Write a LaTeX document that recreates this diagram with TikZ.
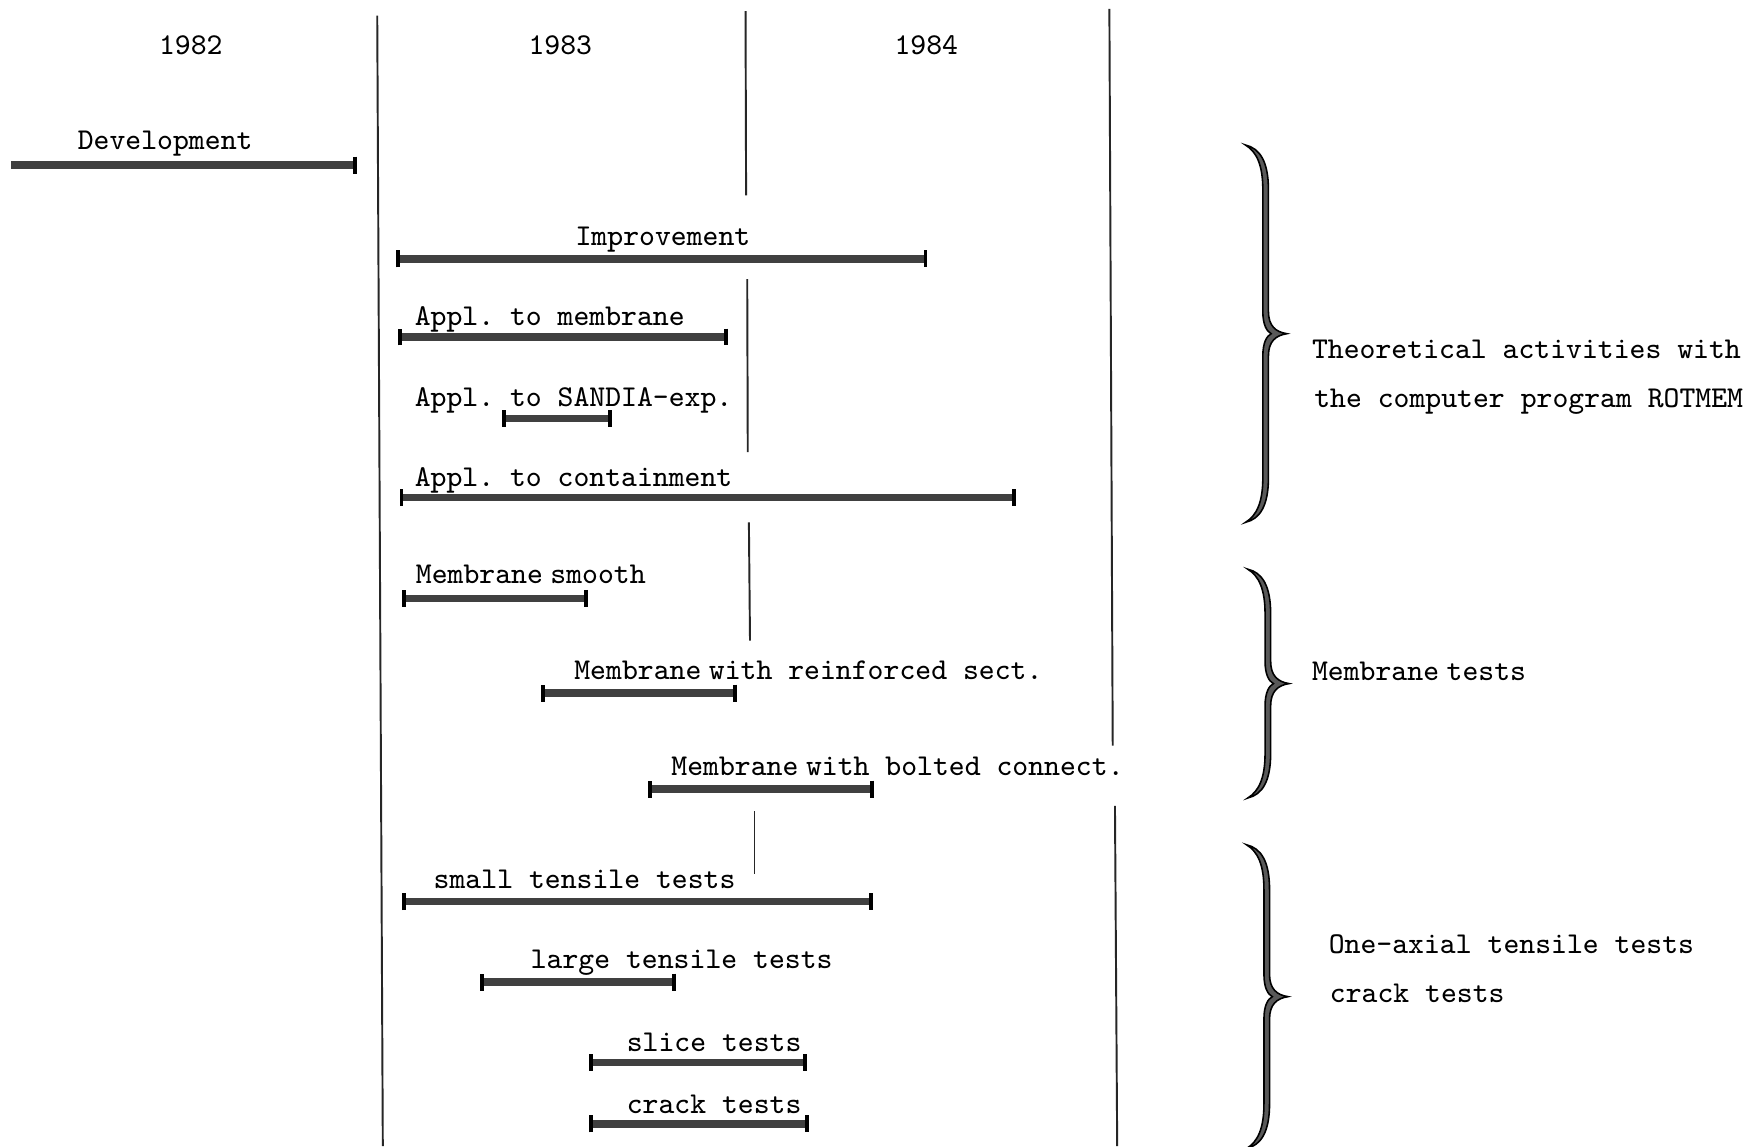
\documentclass[tikz,border=0pt]{standalone}
\usepackage{fontspec}
\usetikzlibrary{arrows.meta}
\newcommand\tbrace[3]{%
  \pgfmathsetmacro\ym{(#2+#3)/2}%
  \filldraw[bracestyle]
    (#1,#2) .. controls ({#1+13},{#2+3}) and ({#1+20.5},{#2+15}) .. ({#1+20.5},{#2+40})
    -- ({#1+20.5},{\ym-20}) .. controls ({#1+20.5},{\ym-7}) and ({#1+27},{\ym-1.5}) .. ({#1+37},\ym)
    .. controls ({#1+27},{\ym+1.5}) and ({#1+20.5},{\ym+7}) .. ({#1+20.5},{\ym+20})
    -- ({#1+20.5},{#3-40}) .. controls ({#1+20.5},{#3-15}) and ({#1+13},{#3-3}) .. (#1,#3)
    .. controls ({#1+10},{#3-6}) and ({#1+15.5},{#3-18}) .. ({#1+15.5},{#3-40})
    -- ({#1+15.5},{\ym+20}) .. controls ({#1+15.5},{\ym+8}) and ({#1+19},{\ym+2}) .. ({#1+23},\ym)
    .. controls ({#1+19},{\ym-2}) and ({#1+15.5},{\ym-8}) .. ({#1+15.5},{\ym-20})
    -- ({#1+15.5},{#2+40}) .. controls ({#1+15.5},{#2+18}) and ({#1+10},{#2+6}) .. (#1,#2) -- cycle;}
\begin{document}
\frenchspacing
\begin{tikzpicture}[x=0.0111607cm,y=-0.0111607cm,
  lbl/.style={font=\fontsize{8.6}{10}\selectfont\ttfamily\frenchspacing, inner sep=0pt, text=black},
  lblw/.style={lbl, anchor=base west},
  lblc/.style={lbl, anchor=base},
  gridline/.style={line width=0.55pt, black!85},
  gbar/.style={line width=2.1pt, draw=black!75, {Bar[width=4.8pt,line width=1.1pt,color=black]}-{Bar[width=4.8pt,line width=1.1pt,color=black]}},
  gbarr/.style={line width=2.1pt, draw=black!75, -{Bar[width=4.8pt,line width=1.1pt,color=black]}},
  bracestyle/.style={fill=black!65, draw=black, line width=0.45pt},
]
\useasboundingbox[fill=white] (0,0) rectangle (1568,1027);

% year grid
\draw[gridline] (338,14) -- (343,1027);
\draw[gridline] (668,10) -- (668.5,175);
\draw[gridline] (669.5,250) -- (670,405);
\draw[gridline] (671,468) -- (672,574);
\draw[gridline] (676,727) -- (676,783);
\draw[gridline] (994,8) -- (997,668);
\draw[gridline] (999,722) -- (1001,1027);

\node[lblc] (y82) at (171,49) {1982};
\node[lblc] (y83) at (502,49) {1983};
\node[lblc] (y84) at (830,49) {1984};

% bars
\node[lblc] (dev) at (148,134) {Development};
\coordinate (dev-s) at (10,148); \coordinate (dev-e) at (320,148);
\draw[gbarr] (dev-s) -- (dev-e);

\node[lblc] (imp) at (594,220) {Improvement};
\coordinate (imp-s) at (355,232); \coordinate (imp-e) at (831,232);
\draw[gbar] (imp-s) -- (imp-e);

\node[lblw] (mem) at (371,292) {Appl. to membrane};
\coordinate (mem-s) at (357,302); \coordinate (mem-e) at (652,302);
\draw[gbar] (mem-s) -- (mem-e);

\node[lblw] (san) at (371,364) {Appl. to SANDIA-exp.};
\coordinate (san-s) at (450,375); \coordinate (san-e) at (548,375);
\draw[gbar] (san-s) -- (san-e);

\node[lblw] (con) at (371,436) {Appl. to containment};
\coordinate (con-s) at (358,446); \coordinate (con-e) at (910,446);
\draw[gbar] (con-s) -- (con-e);

\node[lblw] (smo) at (372,523) {Membrane\hspace{0.25em}smooth};
\coordinate (smo-s) at (360,536); \coordinate (smo-e) at (527,536);
\draw[gbar] (smo-s) -- (smo-e);

\node[lblw] (rei) at (514,609) {Membrane\hspace{0.25em}with reinforced sect.};
\coordinate (rei-s) at (485,621); \coordinate (rei-e) at (660,621);
\draw[gbar] (rei-s) -- (rei-e);

\node[lblw] (bol) at (601,695) {Membrane\hspace{0.25em}with bolted connect.};
\coordinate (bol-s) at (581,707); \coordinate (bol-e) at (783,707);
\draw[gbar] (bol-s) -- (bol-e);

\node[lblw] (sma) at (388,796) {small tensile tests};
\coordinate (sma-s) at (360,808); \coordinate (sma-e) at (782,808);
\draw[gbar] (sma-s) -- (sma-e);

\node[lblw] (lar) at (475,868) {large tensile tests};
\coordinate (lar-s) at (430,880); \coordinate (lar-e) at (606,880);
\draw[gbar] (lar-s) -- (lar-e);

\node[lblw] (sli) at (561,942) {slice tests};
\coordinate (sli-s) at (528,952); \coordinate (sli-e) at (723,952);
\draw[gbar] (sli-s) -- (sli-e);

\node[lblw] (cra) at (561,998) {crack tests};
\coordinate (cra-s) at (528,1007); \coordinate (cra-e) at (725,1007);
\draw[gbar] (cra-s) -- (cra-e);

% braces and group labels
\tbrace{1116}{130}{468}
\tbrace{1118}{510}{715}
\tbrace{1117}{757}{1029}

\node[lblw] (g1a) at (1175,321) {Theoretical activities with};
\node[lblw] (g1b) at (1177,365) {the computer program ROTMEM};
\node[lblw] (g2) at (1175,610) {Membrane\hspace{0.25em}tests};
\node[lblw] (g3a) at (1190,854) {One-axial tensile tests};
\node[lblw] (g3b) at (1191,898) {crack tests};
\end{tikzpicture}
\end{document}
